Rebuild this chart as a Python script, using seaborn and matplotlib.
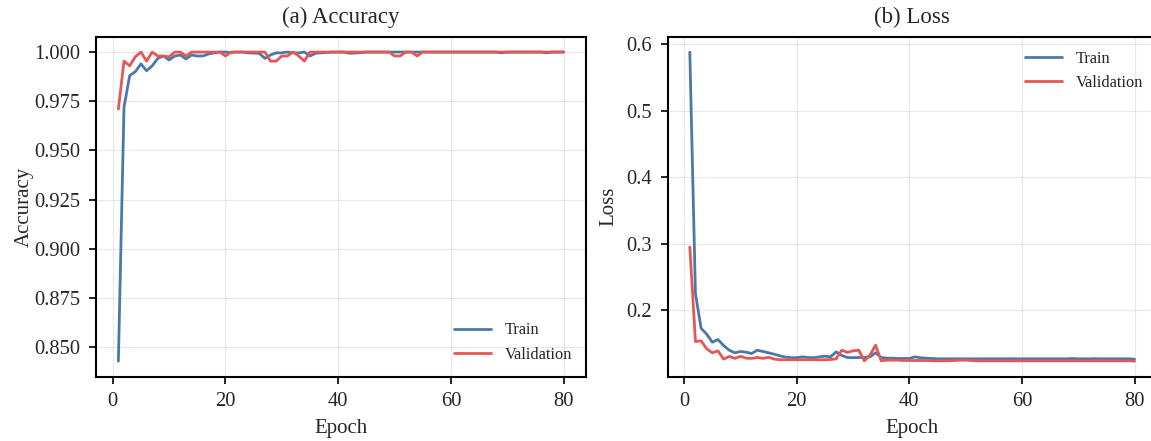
import matplotlib
matplotlib.use('Agg')

import matplotlib.pyplot as plt
import seaborn as sns
import pandas as pd
import numpy as np

# 训练曲线数据
epochs = list(range(1, 81))

train_acc = [
    0.843, 0.972, 0.988, 0.990, 0.994, 0.9905, 0.993, 0.9968, 0.998, 0.996,
    0.998, 0.9985, 0.9965, 0.9985, 0.998, 0.998, 0.999, 0.9996, 1.0, 1.0,
    0.9998, 1.0, 1.0, 0.9996, 0.9995, 0.9993, 0.9968, 0.9985, 0.9996, 0.9996,
    1.0, 0.9996, 0.9996, 1.0, 0.998, 0.9994, 0.9996, 0.9998, 1.0, 1.0,
    1.0, 0.9994, 0.9995, 0.9997, 1.0, 1.0, 1.0, 1.0, 1.0, 1.0,
    1.0, 1.0, 1.0, 1.0, 1.0, 1.0, 1.0, 1.0, 1.0, 1.0,
    1.0, 1.0, 1.0, 1.0, 1.0, 1.0, 1.0, 1.0, 0.9996, 1.0,
    1.0, 1.0, 1.0, 1.0, 1.0, 1.0, 0.9996, 1.0, 1.0, 1.0,
]
val_acc = [
    0.971, 0.9954, 0.993, 0.9976, 1.0, 0.9954, 1.0, 0.998, 0.998, 0.9976,
    1.0, 1.0, 0.998, 1.0, 1.0, 1.0, 1.0, 1.0, 1.0, 0.998,
    1.0, 1.0, 1.0, 1.0, 1.0, 1.0, 1.0, 0.9954, 0.9954, 0.998,
    0.998, 1.0, 0.998, 0.9954, 1.0, 1.0, 1.0, 1.0, 1.0, 1.0,
    1.0, 1.0, 1.0, 1.0, 1.0, 1.0, 1.0, 1.0, 1.0, 0.998,
    0.998, 1.0, 1.0, 0.998, 1.0, 1.0, 1.0, 1.0, 1.0, 1.0,
    1.0, 1.0, 1.0, 1.0, 1.0, 1.0, 1.0, 1.0, 1.0, 1.0,
    1.0, 1.0, 1.0, 1.0, 1.0, 1.0, 1.0, 1.0, 1.0, 1.0,
]
train_loss = [
    0.588, 0.225, 0.173, 0.164, 0.152, 0.156, 0.147, 0.140, 0.136, 0.138,
    0.137, 0.135, 0.140, 0.138, 0.136, 0.134, 0.1315, 0.1296, 0.1287, 0.1287,
    0.130, 0.129, 0.1287, 0.130, 0.131, 0.130, 0.1375, 0.132, 0.129, 0.1287,
    0.129, 0.129, 0.130, 0.136, 0.129, 0.128, 0.128, 0.1275, 0.1275, 0.1275,
    0.130, 0.1285, 0.128, 0.1275, 0.127, 0.127, 0.127, 0.127, 0.127, 0.127,
    0.127, 0.127, 0.127, 0.127, 0.127, 0.127, 0.127, 0.1272, 0.127, 0.127,
    0.127, 0.127, 0.127, 0.127, 0.127, 0.127, 0.127, 0.127, 0.1275, 0.127,
    0.127, 0.127, 0.1272, 0.127, 0.127, 0.127, 0.127, 0.127, 0.127, 0.1265,
]
val_loss = [
    0.295, 0.153, 0.154, 0.142, 0.136, 0.139, 0.1266, 0.1307, 0.1277, 0.1307,
    0.128, 0.1277, 0.129, 0.1277, 0.1293, 0.1266, 0.1256, 0.1256, 0.1256, 0.1256,
    0.1256, 0.1256, 0.1256, 0.1256, 0.1256, 0.126, 0.127, 0.140, 0.1367, 0.139,
    0.140, 0.124, 0.1326, 0.1476, 0.124, 0.125, 0.125, 0.125, 0.1245, 0.1245,
    0.1245, 0.1245, 0.1245, 0.124, 0.124, 0.124, 0.124, 0.1245, 0.125, 0.125,
    0.1245, 0.124, 0.124, 0.124, 0.124, 0.124, 0.124, 0.124, 0.124, 0.124,
    0.124, 0.124, 0.124, 0.124, 0.124, 0.124, 0.124, 0.124, 0.124, 0.124,
    0.124, 0.124, 0.124, 0.124, 0.124, 0.124, 0.124, 0.124, 0.124, 0.1235,
]

TRAIN_COLOR = '#4C78A8'
VAL_COLOR = '#E45756'

sns.set_theme(style="ticks")
plt.rcParams['font.family'] = ['Liberation Serif', 'DejaVu Serif']

df = pd.DataFrame({
    'Epoch': epochs,
    'train_acc': train_acc,
    'val_acc': val_acc,
    'train_loss': train_loss,
    'val_loss': val_loss,
})

fig, axes = plt.subplots(1, 2, figsize=(11.51, 4.41), dpi=100)
# 右图右边框在参考图中被裁掉，保持两图等宽
axes[0].set_position([0.0835, 0.146, 0.4255, 0.771])
axes[1].set_position([0.5800, 0.146, 0.4250, 0.771])

panels = [
    (axes[0], 'train_acc', 'val_acc', 'Accuracy', '(a) Accuracy', 'lower right', 1),
    (axes[1], 'train_loss', 'val_loss', 'Loss', '(b) Loss', 'upper right', 6),
]

for ax, tcol, vcol, ylabel, title, loc, ypad in panels:
    sns.lineplot(data=df, x='Epoch', y=tcol, ax=ax, color=TRAIN_COLOR,
                 linewidth=2.0, label='Train')
    sns.lineplot(data=df, x='Epoch', y=vcol, ax=ax, color=VAL_COLOR,
                 linewidth=2.0, label='Validation')
    ax.set_title(title, fontsize=16.5, pad=10)
    ax.set_xlabel('Epoch', fontsize=15, labelpad=6)
    ax.set_ylabel(ylabel, fontsize=15, labelpad=ypad)
    ax.set_xticks([0, 20, 40, 60, 80])
    ax.tick_params(axis='both', labelsize=14.8, direction='out', length=5,
                   width=1.2, color='black', pad=6)
    ax.grid(True, color='#cccccc', alpha=0.45, linewidth=0.8)
    for sp in ax.spines.values():
        sp.set_visible(True)
        sp.set_color('black')
        sp.set_linewidth(1.5)
    ax.legend(loc=loc, frameon=False, fontsize=11.8, handlelength=2.3,
              borderaxespad=0.45)

axes[0].set_yticks([0.850, 0.875, 0.900, 0.925, 0.950, 0.975, 1.000])
axes[0].set_yticklabels([f'{v:.3f}' for v in axes[0].get_yticks()])

fig.savefig('out.png', dpi=100)
plt.close(fig)
